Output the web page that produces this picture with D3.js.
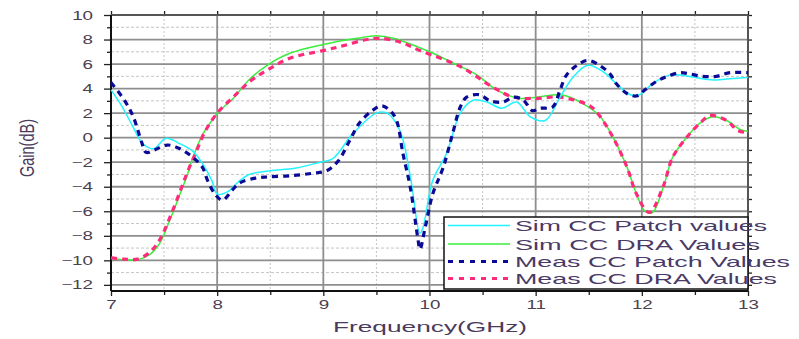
<!DOCTYPE html>
<html>
  <head>
    <meta charset="UTF-8" />
    <script src="https://d3js.org/d3.v7.min.js"></script>
    <title>Gain vs Frequency</title>
    <style>
      body { margin: 0; background: #fff; }
    </style>
  </head>
  <body>
    <div id="chart"></div>
    <script>
      // series data (GHz, dB)
      var simPatchFreq = [7.0, 7.1, 7.2, 7.3, 7.4, 7.52, 7.65, 7.77, 7.86, 7.95, 8.0, 8.1, 8.2, 8.3, 8.5, 8.73, 8.97, 9.09, 9.28, 9.5, 9.6, 9.72, 9.82, 9.91, 9.94, 10.03, 10.16, 10.29, 10.41, 10.54, 10.68, 10.82, 10.95, 11.09, 11.23, 11.35, 11.49, 11.63, 11.76, 11.89, 11.98, 12.1, 12.26, 12.36, 12.57, 12.7, 12.83, 13.0];
      var simPatchGain = [3.9, 2.6, 1.0, -0.5, -0.9, -0.05, -0.5, -1.1, -2.1, -3.5, -4.6, -4.4, -3.6, -3.0, -2.7, -2.5, -2.0, -1.7, 0.35, 2.0, 2.0, 0.6, -3.2, -7.8, -7.3, -3.5, -1.3, 2.0, 3.05, 2.9, 2.4, 2.9, 1.7, 1.4, 3.3, 4.9, 5.9, 5.4, 4.4, 3.5, 3.5, 4.4, 5.1, 5.1, 4.8, 4.7, 4.8, 4.9];

      var simDraFreq = [7.0, 7.12, 7.27, 7.37, 7.46, 7.55, 7.65, 7.72, 7.76, 7.86, 7.95, 8.0, 8.15, 8.31, 8.47, 8.69, 9.0, 9.32, 9.5, 9.66, 10.0, 10.22, 10.45, 10.63, 10.85, 11.01, 11.2, 11.29, 11.48, 11.6, 11.73, 11.86, 11.95, 12.03, 12.1, 12.2, 12.29, 12.42, 12.55, 12.67, 12.8, 12.92, 13.0];
      var simDraGain = [-9.8, -9.95, -9.9, -9.5, -8.6, -6.8, -4.6, -3.0, -1.9, 0.2, 1.4, 2.0, 3.2, 4.8, 5.9, 6.9, 7.6, 8.1, 8.3, 8.1, 7.0, 6.1, 5.1, 3.9, 3.2, 3.3, 3.5, 3.4, 2.6, 1.8, 0.0, -2.4, -4.6, -6.0, -6.1, -4.1, -1.6, 0.0, 1.2, 1.7, 1.4, 0.7, 0.5];

      var measPatchFreq = [7.0, 7.13, 7.21, 7.29, 7.33, 7.41, 7.53, 7.65, 7.77, 7.86, 7.91, 7.98, 8.05, 8.14, 8.21, 8.36, 8.48, 8.7, 8.9, 9.03, 9.14, 9.25, 9.34, 9.46, 9.55, 9.63, 9.69, 9.75, 9.82, 9.89, 9.91, 9.96, 10.03, 10.13, 10.22, 10.29, 10.35, 10.47, 10.57, 10.69, 10.79, 10.88, 10.97, 11.04, 11.16, 11.23, 11.29, 11.39, 11.49, 11.6, 11.7, 11.76, 11.86, 11.95, 12.03, 12.14, 12.24, 12.36, 12.45, 12.57, 12.7, 12.83, 13.0];
      var measPatchGain = [4.5, 3.0, 1.7, -0.4, -1.2, -1.0, -0.6, -0.9, -1.6, -2.4, -3.5, -4.6, -5.1, -4.3, -3.7, -3.3, -3.2, -3.1, -2.9, -2.7, -1.9, -0.2, 1.2, 2.2, 2.6, 2.2, 1.4, -1.3, -4.1, -8.2, -9.1, -7.3, -4.6, -2.4, 0.4, 2.5, 3.3, 3.5, 3.0, 2.9, 3.3, 3.1, 2.2, 2.4, 2.5, 3.9, 5.1, 5.9, 6.3, 5.9, 5.2, 4.4, 3.6, 3.4, 3.9, 4.6, 5.0, 5.3, 5.2, 5.0, 5.0, 5.3, 5.3];

      var measDraFreq = [7.0, 7.12, 7.25, 7.37, 7.46, 7.55, 7.65, 7.72, 7.8, 7.88, 8.0, 8.15, 8.31, 8.47, 8.69, 9.0, 9.19, 9.41, 9.53, 9.72, 9.91, 10.29, 10.6, 10.79, 11.0, 11.23, 11.51, 11.6, 11.73, 11.86, 11.95, 12.07, 12.2, 12.29, 12.42, 12.55, 12.64, 12.8, 12.9, 13.0];
      var measDraGain = [-9.8, -9.9, -9.9, -9.3, -8.3, -6.6, -4.4, -2.8, -1.2, 0.4, 2.0, 3.3, 4.6, 5.5, 6.5, 7.1, 7.5, 8.0, 8.1, 7.8, 7.1, 5.8, 4.1, 3.3, 3.2, 3.3, 2.6, 1.8, 0.0, -2.4, -4.6, -6.1, -4.0, -1.6, 0.0, 1.2, 1.8, 1.4, 0.6, 0.4];

      var seriesNames = ["Sim CC Patch values", "Sim CC DRA Values", "Meas CC Patch Values", "Meas CC DRA Values"];
      var xTicks = [7, 8, 9, 10, 11, 12, 13];
      var yTicks = [-12, -10, -8, -6, -4, -2, 0, 2, 4, 6, 8, 10];

      var series = [
        { name: seriesNames[0], freq: simPatchFreq, gain: simPatchGain, color: "#22f4ff", width: 1.5, dash: null },
        { name: seriesNames[1], freq: simDraFreq, gain: simDraGain, color: "#3cee3c", width: 1.5, dash: null },
        { name: seriesNames[2], freq: measPatchFreq, gain: measPatchGain, color: "#0a0a96", width: 3.2, dash: "6,5" },
        { name: seriesNames[3], freq: measDraFreq, gain: measDraGain, color: "#ff2a7a", width: 3.2, dash: "6,5" }
      ];

      var W = 799, H = 339;
      var margin = { top: 15, right: 51, bottom: 48, left: 111 },
        width = W - margin.left - margin.right,
        height = H - margin.top - margin.bottom;

      var svg = d3.select("#chart")
        .append("svg")
        .attr("width", W)
        .attr("height", H)
        .style("font-family", "Arial, 'Liberation Sans', sans-serif");

      var g = svg.append("g")
        .attr("transform", "translate(" + margin.left + "," + margin.top + ")");

      var x = d3.scaleLinear().domain([7, 13]).range([0, width]);
      var y = d3.scaleLinear().domain([-12.5, 10]).range([height, 0]);

      var minorX = d3.range(7.5, 13, 1);
      var minorY = d3.range(-11, 10, 2);

      // the source image is stretched sideways, so text is stretched too
      function stretch(sel, k) {
        sel.each(function() {
          var len = this.getComputedTextLength();
          d3.select(this)
            .attr("textLength", len * k)
            .attr("lengthAdjust", "spacingAndGlyphs");
        });
      }

      // minor grid (dotted)
      g.append("g").selectAll("line")
        .data(minorX).enter().append("line")
        .attr("x1", function(d) { return x(d); })
        .attr("x2", function(d) { return x(d); })
        .attr("y1", 0).attr("y2", height)
        .attr("stroke", "#c4c4c4").attr("stroke-width", 1)
        .attr("stroke-dasharray", "2,2");
      g.append("g").selectAll("line")
        .data(minorY).enter().append("line")
        .attr("y1", function(d) { return y(d); })
        .attr("y2", function(d) { return y(d); })
        .attr("x1", 0).attr("x2", width)
        .attr("stroke", "#c4c4c4").attr("stroke-width", 1)
        .attr("stroke-dasharray", "3,2");

      // major grid
      g.append("g").selectAll("line")
        .data(xTicks).enter().append("line")
        .attr("x1", function(d) { return x(d); })
        .attr("x2", function(d) { return x(d); })
        .attr("y1", 0).attr("y2", height)
        .attr("stroke", "#8e8e8e").attr("stroke-width", 1.8);
      g.append("g").selectAll("line")
        .data(yTicks).enter().append("line")
        .attr("y1", function(d) { return y(d); })
        .attr("y2", function(d) { return y(d); })
        .attr("x1", 0).attr("x2", width)
        .attr("stroke", "#8e8e8e").attr("stroke-width", 1.8);

      // frame ticks
      function addAxis(axis, tr, vals, size, showLabels) {
        var a = g.append("g").attr("transform", tr)
          .call(axis.tickValues(vals).tickSize(size).tickSizeOuter(0)
            .tickFormat(showLabels ? d3.format("d") : ""));
        a.select(".domain").remove();
        a.selectAll(".tick line").attr("stroke", "#222").attr("stroke-width", 1.3);
        return a;
      }

      addAxis(d3.axisLeft(y), null, minorY, 4, false);
      var yAx = addAxis(d3.axisLeft(y), null, yTicks, 7, true);
      yAx.selectAll("text")
        .attr("x", -18)
        .style("font-size", "12.5px")
        .attr("fill", "#4a4050");
      stretch(yAx.selectAll("text"), 1.5);

      addAxis(d3.axisBottom(x), "translate(0," + height + ")", minorX, 4, false);
      var xAx = addAxis(d3.axisBottom(x), "translate(0," + height + ")", xTicks, 5, true);
      xAx.selectAll("text")
        .attr("y", 9)
        .style("font-size", "12.5px")
        .attr("fill", "#4a4050");
      stretch(xAx.selectAll("text"), 1.5);

      addAxis(d3.axisRight(y), "translate(" + width + ",0)", yTicks.concat(minorY), 4, false);
      addAxis(d3.axisTop(x), null, xTicks.concat(minorX), 4, false);

      // frame lines
      g.append("line").attr("x1", 0).attr("x2", width).attr("y1", 0).attr("y2", 0)
        .attr("stroke", "#555").attr("stroke-width", 2);
      g.append("line").attr("x1", width).attr("x2", width).attr("y1", 0).attr("y2", height)
        .attr("stroke", "#555").attr("stroke-width", 2);
      g.append("line").attr("x1", 0).attr("x2", width).attr("y1", height).attr("y2", height)
        .attr("stroke", "#111").attr("stroke-width", 2);
      g.append("line").attr("x1", 0).attr("x2", 0).attr("y1", 0).attr("y2", height)
        .attr("stroke", "#111").attr("stroke-width", 2);

      // curves
      var line = d3.line()
        .x(function(d) { return x(d[0]); })
        .y(function(d) { return y(d[1]); })
        .curve(d3.curveCatmullRom.alpha(0.5));

      var plot = g.append("g");
      [1, 3, 0, 2].forEach(function(i) {
        var s = series[i];
        var pts = s.freq.map(function(f, j) { return [f, s.gain[j]]; });
        plot.append("path")
          .datum(pts)
          .attr("d", line)
          .attr("fill", "none")
          .attr("stroke", s.color)
          .attr("stroke-width", s.width)
          .attr("stroke-dasharray", s.dash);
      });

      // legend
      var legend = svg.append("g").attr("transform", "translate(444,217)");
      legend.append("rect")
        .attr("width", 304).attr("height", 72)
        .attr("fill", "#fff").attr("stroke", "#111").attr("stroke-width", 1.5);

      var rowY = [8.5, 27, 44.5, 61.5];
      var textW = [252, 245, 275, 262];
      series.forEach(function(s, i) {
        legend.append("line")
          .attr("x1", 4).attr("x2", 66)
          .attr("y1", rowY[i]).attr("y2", rowY[i])
          .attr("stroke", s.color)
          .attr("stroke-width", s.dash ? 3 : 1.5)
          .attr("stroke-dasharray", s.dash ? "5,6" : null);
        legend.append("text")
          .attr("x", 71)
          .attr("y", rowY[i] + 5.5)
          .attr("textLength", textW[i])
          .attr("lengthAdjust", "spacingAndGlyphs")
          .style("font-size", "15px")
          .attr("fill", "#4a3a66")
          .text(s.name);
      });

      // axis titles
      svg.append("text")
        .attr("x", 333)
        .attr("y", 332)
        .attr("textLength", 194)
        .attr("lengthAdjust", "spacingAndGlyphs")
        .style("font-size", "15px")
        .attr("fill", "#4a3a5c")
        .text("Frequency(GHz)");

      svg.append("text")
        .attr("transform", "translate(27,148) scale(1.4,1) rotate(-90)")
        .attr("text-anchor", "middle")
        .attr("dy", "0.35em")
        .style("font-size", "14.5px")
        .attr("fill", "#4a3a5c")
        .text("Gain(dB)");
    </script>
  </body>
</html>
